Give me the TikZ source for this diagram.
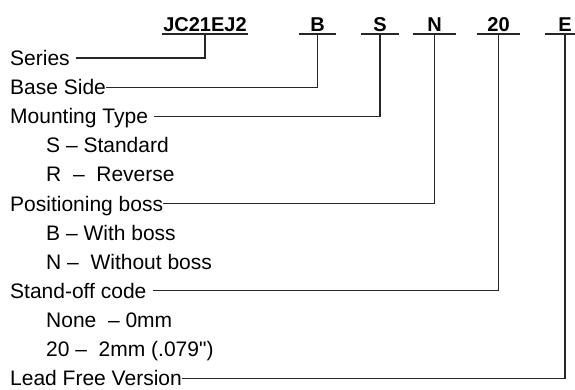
\documentclass[tikz,border=0pt]{standalone}
\usepackage{fontspec}
\setmainfont{Liberation Sans}[Ligatures=TeXOff]
\begin{document}
\begin{tikzpicture}[
  x=1pt, y=-1pt,
  code/.style={font=\fontsize{20}{24}\selectfont\bfseries, anchor=south, inner xsep=0pt, inner ysep=2pt,
    text height=14pt, text depth=0pt,
    append after command={(\tikzlastnode.south west) edge[underline] (\tikzlastnode.south east)}},
  underline/.style={line width=1.7pt, black!85},
  field/.style={font=\fontsize{21}{25}\selectfont, anchor=base west, inner sep=0pt, text height=15pt, text depth=0pt},
  choice/.style={field},
  lead/.style={line width=1.1pt, black!85}
]
  \useasboundingbox (0,0) rectangle (575,389);

  % Part number codes
  \node[code, minimum width=86pt] (jc) at (205,34) {JC21EJ2};
  \node[code, minimum width=37pt] (b) at (317.5,34) {B};
  \node[code, minimum width=37pt] (s) at (380,34) {S};
  \node[code, minimum width=42pt] (n) at (434.5,34) {N};
  \node[code, minimum width=43pt] (d) at (498.5,34) {20};
  \node[code, minimum width=40pt] (e) at (565,34) {E};

  % Field names
  \node[field] (series) at (10,65.5) {Series\kern6pt};
  \node[field] (base) at (10,94.6) {Base Side};
  \node[field] (mount) at (10,123.7) {Mounting Type\kern6pt};
  \node[choice] (mstd) at (46,152.8) {S – Standard};
  \node[choice] (mrev) at (46,181.9) {R\ \ –\ \ Reverse};
  \node[field] (boss) at (10,211) {Positioning boss};
  \node[choice] (bwith) at (46,240.1) {B – With boss};
  \node[choice] (bnone) at (46,269.2) {N –\ \ Without boss};
  \node[field] (stand) at (10,298.3) {Stand-off code\kern6pt};
  \node[choice] (snone) at (46,327.4) {None\ \ – 0mm};
  \node[choice] (stwo) at (46,356.5) {20 –\ \ 2mm (.079")};
  \node[field] (lead) at (10,385.6) {Lead Free Version};

  % Leader lines
  \draw[lead] (series.east) -| (jc.south);
  \draw[lead] (base.east) -| (b.south);
  \draw[lead] (mount.east) -| (s.south);
  \draw[lead] (boss.east) -| (n.south);
  \draw[lead] (stand.east) -| (d.south);
  \draw[lead] (lead.east) -| (e.south);

\end{tikzpicture}
\end{document}
